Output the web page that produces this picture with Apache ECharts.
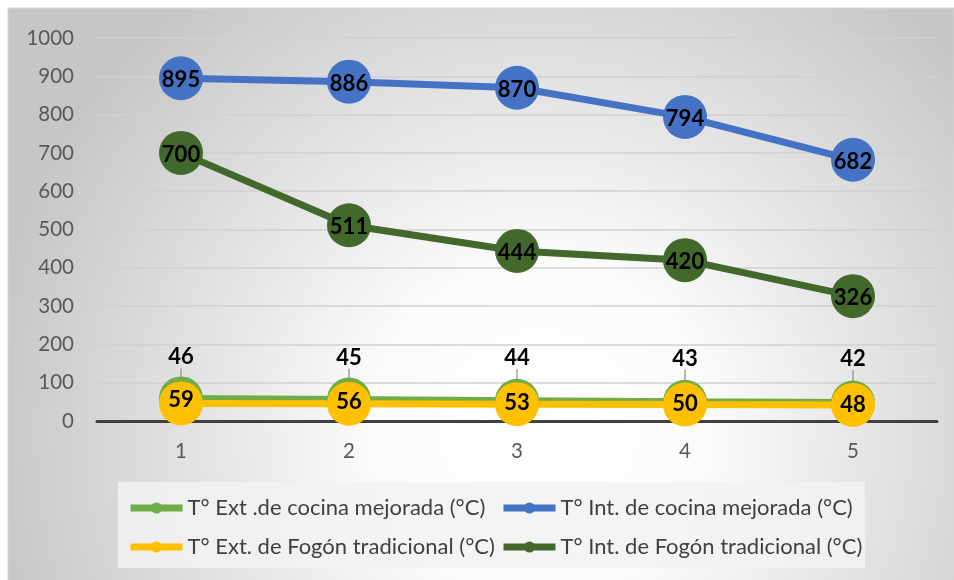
<!DOCTYPE html>
<html>
<head>
<meta charset="utf-8">
<script src="https://cdn.jsdelivr.net/npm/echarts@6/dist/echarts.min.js"></script>
<style>
  html, body { margin: 0; padding: 0; background: #ffffff; }
  #chart { width: 954px; height: 580px; }
</style>
</head>
<body>
<div id="chart"></div>
<script>
// Categories (measurement number) and temperatures in °C
const categories = ['1', '2', '3', '4', '5'];
const extMejorada = [59, 56, 53, 50, 48];
const intMejorada = [895, 886, 870, 794, 682];
const extFogon = [46, 45, 44, 43, 42];
const intFogon = [700, 511, 444, 420, 326];

const seriesNames = [
  'T° Ext .de cocina mejorada (°C)',
  'T° Int. de cocina mejorada (°C)',
  'T° Ext. de Fogón tradicional (°C)',
  'T° Int. de Fogón tradicional (°C)'
];

const FONT = 'Lato, "Open Sans", sans-serif';

const chart = echarts.init(document.getElementById('chart'), null, { renderer: 'canvas' });

const bigLabel = {
  show: true,
  position: 'inside',
  color: '#000000',
  fontFamily: FONT,
  fontWeight: 'bold',
  fontSize: 22,
  offset: [0, 2]
};

function lineSeries(name, data, color, extra) {
  return Object.assign({
    name: name,
    type: 'line',
    data: data,
    symbol: 'circle',
    symbolSize: 44,
    lineStyle: { color: color, width: 7 },
    itemStyle: { color: color },
    label: bigLabel,
    emphasis: { disabled: true },
    animation: false
  }, extra || {});
}

const legendText = { color: '#404040', fontFamily: FONT, fontSize: 22 };
const legendCommon = {
  orient: 'vertical',
  top: 492,
  itemWidth: 52,
  itemHeight: 14,
  itemGap: 17,
  selectedMode: false,
  itemStyle: { borderWidth: 0 },
  lineStyle: { width: 7 },
  textStyle: legendText
};

const option = {
  animation: false,
  graphic: [
    {
      type: 'rect',
      silent: true,
      z: -10,
      shape: { x: 8, y: 8, width: 946, height: 580 },
      style: {
        fill: new echarts.graphic.RadialGradient(540, 430, 560, [
          { offset: 0, color: '#ffffff' },
          { offset: 0.3, color: '#fbfbfb' },
          { offset: 1, color: '#c6c6c6' }
        ], true),
        stroke: '#d6d6d6',
        lineWidth: 1
      }
    },
    {
      type: 'rect',
      silent: true,
      z: -9,
      shape: { x: 118, y: 482, width: 747, height: 86 },
      style: { fill: 'rgba(242,242,242,0.85)' }
    }
  ],
  grid: { left: 97, right: 17, top: 38, bottom: 159, containLabel: false },
  legend: [
    Object.assign({ left: 122, data: [seriesNames[0], seriesNames[2]] }, legendCommon),
    Object.assign({ left: 495, data: [seriesNames[1], seriesNames[3]] }, legendCommon)
  ],
  xAxis: {
    type: 'category',
    data: categories,
    boundaryGap: true,
    axisLine: { show: true, lineStyle: { color: '#404040', width: 3 } },
    axisTick: { show: false },
    axisLabel: { color: '#595959', fontFamily: FONT, fontSize: 20.5, margin: 20 },
    splitLine: { show: false }
  },
  yAxis: {
    type: 'value',
    min: 0,
    max: 1000,
    interval: 100,
    axisLine: { show: false },
    axisTick: { show: false },
    axisLabel: {
      color: '#595959', fontFamily: FONT, fontSize: 20.5, margin: 23,
      formatter: function (v) { return String(v); }
    },
    splitLine: { show: true, lineStyle: { color: '#d0d0d0', width: 1.5 } }
  },
  series: [
    lineSeries(seriesNames[0], extMejorada, '#70ad47'),
    lineSeries(seriesNames[1], intMejorada, '#4472c4'),
    lineSeries(seriesNames[2], extFogon, '#ffc000', {
      label: Object.assign({}, bigLabel, { offset: [0, 0] }),
      labelLayout: { dy: -46 },
      labelLine: { show: true, length2: 0, lineStyle: { color: '#8c8c8c', width: 1.2 } }
    }),
    lineSeries(seriesNames[3], intFogon, '#43682b')
  ]
};

chart.setOption(option);
</script>
</body>
</html>
